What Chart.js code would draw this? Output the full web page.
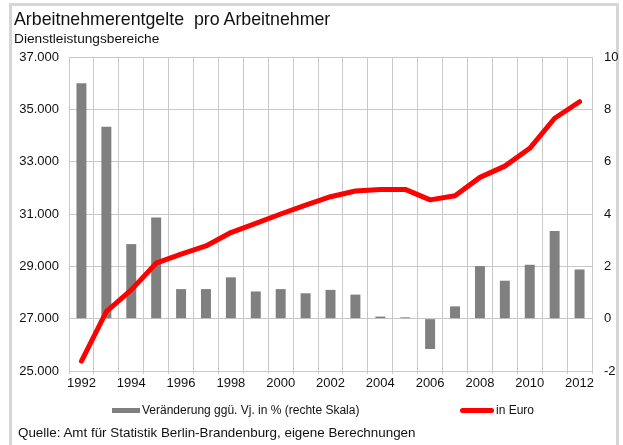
<!DOCTYPE html>
<html lang="de">
<head>
<meta charset="utf-8">
<title>Arbeitnehmerentgelte pro Arbeitnehmer</title>
<script src="https://cdn.jsdelivr.net/npm/chart.js@4/dist/chart.umd.min.js"></script>
<style>
  html, body { margin: 0; padding: 0; background: #fff; }
  body { width: 623px; height: 445px; position: relative; overflow: hidden;
         font-family: "Liberation Sans", Arial, sans-serif; color: #111; }
  #frame { position: absolute; left: 9px; top: 3px; width: 610px; height: 460px;
           border: 3px solid #d6d6d6; box-sizing: border-box; }
  #chart { position: absolute; left: 0; top: 0; }
  .txt { position: absolute; white-space: nowrap; line-height: 1; }
  #title { left: 14px; top: 11px; font-size: 17.8px; }
  #subtitle { left: 14px; top: 32px; font-size: 13.7px; }
  #source { left: 18px; top: 426px; font-size: 13.4px; }
  .legend { position: absolute; top: 403px; font-size: 12px; display: flex; align-items: center; }
  .swatch { display: inline-block; margin-right: 2px; }
  #legBar { left: 112px; }
  #legBar .swatch { width: 28px; height: 5px; background: #808080; }
  #legLine { left: 460px; }
  #legLine .swatch { width: 34px; height: 5px; background: #ff0000; border-radius: 3px; }
</style>
</head>
<body>
<div id="frame"></div>
<canvas id="chart" width="623" height="445"></canvas>
<div class="txt" id="title">Arbeitnehmerentgelte&nbsp; pro Arbeitnehmer</div>
<div class="txt" id="subtitle">Dienstleistungsbereiche</div>
<div class="legend" id="legBar"><span class="swatch"></span>Veränderung ggü. Vj. in % (rechte Skala)</div>
<div class="legend" id="legLine"><span class="swatch"></span>in Euro</div>
<div class="txt" id="source">Quelle: Amt für Statistik Berlin-Brandenburg, eigene Berechnungen</div>

<script>
// Jahre 1992 bis 2012
const years = ['1992','1993','1994','1995','1996','1997','1998','1999','2000','2001','2002',
               '2003','2004','2005','2006','2007','2008','2009','2010','2011','2012'];

// Arbeitnehmerentgelt je Arbeitnehmer in Euro (linke Skala)
const entgeltEuro = [25380, 27270, 28100, 29120, 29470, 29780, 30290, 30640, 31000, 31340, 31660,
                     31880, 31940, 31940, 31540, 31700, 32400, 32830, 33510, 34660, 35290];

// Veränderung gegenüber Vorjahr in % (rechte Skala)
const veraenderung = [9.0, 7.33, 2.85, 3.87, 1.13, 1.13, 1.58, 1.04, 1.13, 0.97, 1.10,
                      0.92, 0.08, 0.05, -1.16, 0.47, 2.01, 1.45, 2.06, 3.35, 1.88];

const gridColor = '#c8c8c8';
const tickFont = { family: '"Liberation Sans", Arial, sans-serif', size: 13 };

// 37000 -> "37.000"
const deNum = v => String(v).replace(/\B(?=(\d{3})+(?!\d))/g, '.');

new Chart(document.getElementById('chart'), {
  type: 'bar',
  data: {
    labels: years,
    datasets: [
      {
        type: 'line',
        label: 'in Euro',
        data: entgeltEuro,
        yAxisID: 'y',
        borderColor: '#ff0000',
        borderWidth: 5,
        borderCapStyle: 'round',
        borderJoinStyle: 'round',
        pointRadius: 0,
        tension: 0,
        order: 0
      },
      {
        label: 'Veränderung ggü. Vj. in % (rechte Skala)',
        data: veraenderung,
        yAxisID: 'y1',
        backgroundColor: '#808080',
        barPercentage: 0.4,
        categoryPercentage: 1,
        order: 1
      }
    ]
  },
  options: {
    responsive: false,
    animation: false,
    layout: { padding: { top: 57, bottom: 50, left: 0, right: 0 } },
    plugins: { legend: { display: false }, tooltip: { enabled: false } },
    scales: {
      x: {
        offset: true,
        grid: { color: gridColor, offset: true, tickLength: 3 },
        border: { color: gridColor },
        ticks: {
          font: tickFont, color: '#111', padding: 2,
          autoSkip: false, maxRotation: 0,
          callback: (v, i) => (i % 2 === 0 ? years[i] : '')
        },
        afterFit: s => { s.height = 24; }
      },
      y: {
        position: 'left',
        min: 25000, max: 37000,
        grid: { color: gridColor, drawTicks: false },
        border: { color: gridColor },
        ticks: { stepSize: 2000, font: tickFont, color: '#111', padding: 10, callback: v => deNum(v) },
        afterFit: s => { s.width = 69; }
      },
      y1: {
        position: 'right',
        min: -2, max: 10,
        grid: { drawOnChartArea: false, drawTicks: false },
        border: { color: gridColor },
        ticks: { stepSize: 2, font: tickFont, color: '#111', padding: 12 },
        afterFit: s => { s.width = 31; }
      }
    }
  }
});
</script>
</body>
</html>
